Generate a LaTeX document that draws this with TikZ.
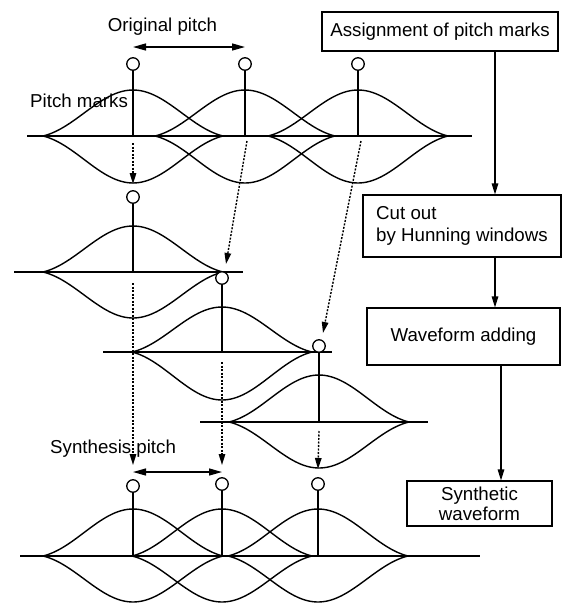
\documentclass[tikz,border=0pt]{standalone}
\usepackage{fontspec}
\setmainfont{Liberation Sans}
\usetikzlibrary{arrows.meta}

% Hanning-like window: centre x, baseline y, upper and lower amplitude
\newcommand\hannwin[4]{%
  \draw[wave] plot[domain=0:1,samples=61,smooth]
    ({#1-90+180*\x},{#2-#3*(0.7*(0.5-0.5*cos(360*\x))+0.3*sin(180*\x))});
  \draw[wave] plot[domain=0:1,samples=61,smooth]
    ({#1-90+180*\x},{#2+#4*(0.7*(0.5-0.5*cos(360*\x))+0.3*sin(180*\x))});
}

\begin{document}
\begin{tikzpicture}[x=1pt,y=-1pt,
  every node/.style={font=\fontsize{18.7}{22}\selectfont},
  wave/.style={line width=1.4pt},
  axis/.style={line width=1.5pt},
  stem/.style={line width=1.5pt},
  pmark/.style={circle,draw,fill=white,line width=1.3pt,minimum size=12.5pt,inner sep=0pt},
  box/.style={draw,line width=1.1pt,inner sep=4pt},
  tip/.style={-{Triangle[length=11pt,width=6.5pt]}},
  arr/.style={tip,line width=1.2pt},
  dotarr/.style={tip,line width=1.4pt,dash pattern=on 2pt off 1.5pt},
  pitcharr/.style={{Triangle[length=13pt,width=7pt]}-{Triangle[length=13pt,width=7pt]},line width=1.3pt}]
\useasboundingbox (0,0) rectangle (562,603);

% ---- original waveform with pitch marks ----
\coordinate (A0) at (27,136);
\coordinate (A1) at (472,136);
\hannwin{133}{136}{46}{47}
\hannwin{245}{136}{46}{47}
\hannwin{358}{136}{46}{47}
\draw[axis] (A0) -- (A1);
\node[pmark] (a1) at (133,64) {};
\node[pmark] (a2) at (245,64) {};
\node[pmark] (a3) at (358,64) {};
\foreach \n in {a1,a2,a3} \draw[stem] (\n) -- (\n |- A0);
\node[anchor=west,inner sep=0pt] (pmlbl) at (30,101) {Pitch marks};
\node[inner sep=0pt] (origlbl) at (162.5,27) {Original pitch};
\draw[pitcharr] (a1 |- 0,47) -- (a2 |- 0,47);

% ---- first cut-out segment ----
\coordinate (B0) at (14,272);
\coordinate (B1) at (243,272);
\hannwin{133}{272}{46}{46}
\draw[axis] (B0) -- (B1);
\node[pmark] (b1) at (133,197) {};
\draw[stem] (b1) -- (b1 |- B0);

% ---- second cut-out segment ----
\coordinate (C0) at (103,352);
\coordinate (C1) at (332,352);
\hannwin{222}{352}{45}{48}
\draw[axis] (C0) -- (C1);
\node[pmark] (c1) at (222,278) {};
\draw[stem] (c1) -- (c1 |- C0);

% ---- third cut-out segment ----
\coordinate (D0) at (200,422);
\coordinate (D1) at (428,422);
\hannwin{319}{422}{47}{46}
\draw[axis] (D0) -- (D1);
\node[pmark] (d1) at (319,346) {};
\draw[stem] (d1) -- (d1 |- D0);

% ---- synthesised waveform ----
\coordinate (E0) at (20,556);
\coordinate (E1) at (480,556);
\hannwin{133}{556}{47}{46}
\hannwin{222}{556}{47}{46}
\hannwin{318}{556}{47}{46}
\draw[axis] (E0) -- (E1);
\node[pmark] (e1) at (133,486) {};
\node[pmark] (e2) at (222,484) {};
\node[pmark] (e3) at (318,484) {};
\foreach \n in {e1,e2,e3} \draw[stem] (\n) -- (\n |- E0);
\node[anchor=west,inner sep=0pt] (synlbl) at (50,449) {Synthesis pitch};

% ---- mark reassignment (dotted) ----
\coordinate (s1) at (133,143);
\coordinate (s2) at (247,141);
\coordinate (s3) at (361,141);
\coordinate (t1) at (133,184);
\coordinate (t2) at (226,264);
\coordinate (t3) at (323,333);
\draw[dotarr] (s1) -- (t1);
\draw[dotarr] (s2) -- (t2);
\draw[dotarr] (s3) -- (t3);

\coordinate (u1) at (133,283);
\coordinate (u2) at (222,362);
\coordinate (u3) at (319,431);
\coordinate (v1) at (133,465);
\coordinate (v2) at (222,465);
\coordinate (v3) at (318,469);
\draw[dotarr] (u1) -- (v1);
\draw[dotarr] (u2) -- (v2);
\draw[dotarr] (u3) -- (v3);
\draw[pitcharr] (133,472) -- (222,472);

% ---- processing steps ----
\node[box,minimum width=236pt,minimum height=39pt] (assign) at (440,31.5) {Assignment of pitch marks};
\node[box,minimum width=198pt,minimum height=62pt,align=left] (cut) at (462,226) {Cut out\\by Hunning windows};
\node[box,minimum width=193pt,minimum height=57pt] (add) at (463.5,336.5) {Waveform adding};
\node[box,minimum width=145pt,minimum height=45pt,align=center,
      font=\fontsize{18.7}{20}\selectfont] (synth) at (479.5,503.5) {Synthetic\\waveform};
\coordinate (X1) at (495,0);
\coordinate (X2) at (501,0);
\draw[arr] (assign.south -| X1) -- (cut.north -| X1);
\draw[arr] (cut.south -| X1) -- (add.north -| X1);
\draw[arr] (add.south -| X2) -- (synth.north -| X2);
\end{tikzpicture}
\end{document}
